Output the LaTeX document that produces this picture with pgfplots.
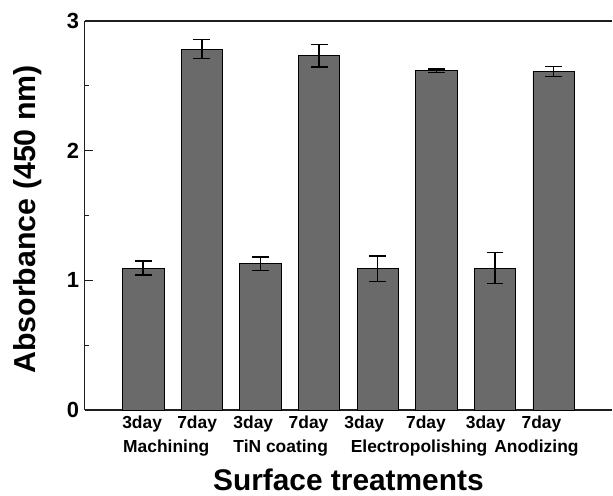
\documentclass[border=0pt]{standalone}
\usepackage{fontspec}
\setmainfont{Liberation Sans}
\usepackage{pgfplots}
\pgfplotsset{compat=1.18}
\definecolor{barfill}{RGB}{106,106,106}
\definecolor{axisc}{RGB}{30,30,30}
\begin{document}
\begin{tikzpicture}
\begin{axis}[
  scale only axis, width=530pt, height=391pt,
  xmin=0, xmax=9, ymin=0, ymax=3,
  axis x line=box, axis y line=left,
  axis line style={-, line width=1.6pt, color=axisc},
  ybar,
  ytick={0,1,2,3}, minor ytick={0.5,1.5,2.5},
  tick align=inside,
  major tick length=8pt, minor tick length=4pt,
  ytick style={line width=1.3pt, color=axisc},
  /pgf/number format/assume math mode=true,
  yticklabel style={font=\bfseries\fontsize{22}{22}\selectfont, xshift=-2pt},
  xtick={0.981,1.919,2.878,3.820,4.771,5.823,6.842,7.793},
  xticklabels={3day,7day,3day,7day,3day,7day,3day,7day},
  xtick style={draw=none},
  xticklabel style={font=\bfseries\fontsize{17.5}{17.5}\selectfont, yshift=-2pt},
  extra x ticks={1.392,3.345,5.705,7.708},
  extra x tick labels={Machining,TiN coating,Electropolishing,Anodizing},
  extra x tick style={tick style={draw=none}, grid=none, tick label style={yshift=-24.4pt}},
  xlabel={Surface treatments},
  xlabel style={at={(axis description cs:0.5,0)}, anchor=base, yshift=-81pt, font=\bfseries\fontsize{30}{30}\selectfont},
  ylabel={Absorbance (450 nm)},
  every axis y label/.style={at={(axis description cs:-0.094,0.49)}, rotate=90, anchor=base, font=\bfseries\fontsize{30.5}{30.5}\selectfont},
  clip=false,
]
\addplot[ybar, bar width=0.705, fill=barfill, draw=black, line width=0.8pt,
  error bars/.cd, y dir=both, y explicit,
  error bar style={line width=1.5pt, black},
  error mark options={rotate=90, mark size=8.5pt, line width=1.5pt, black}]
coordinates {
(1,1.095) +- (0,0.055)
(2,2.783) +- (0,0.072)
(3,1.128) +- (0,0.051)
(4,2.731) +- (0,0.087)
(5,1.090) +- (0,0.097)
(6,2.616) +- (0,0.012)
(7,1.095) +- (0,0.119)
(8,2.611) +- (0,0.038)
};
\end{axis}
\path[use as bounding box] ([xshift=-85pt,yshift=-86pt]current axis.south west) rectangle ++(613pt,498pt);
\end{tikzpicture}
\end{document}
